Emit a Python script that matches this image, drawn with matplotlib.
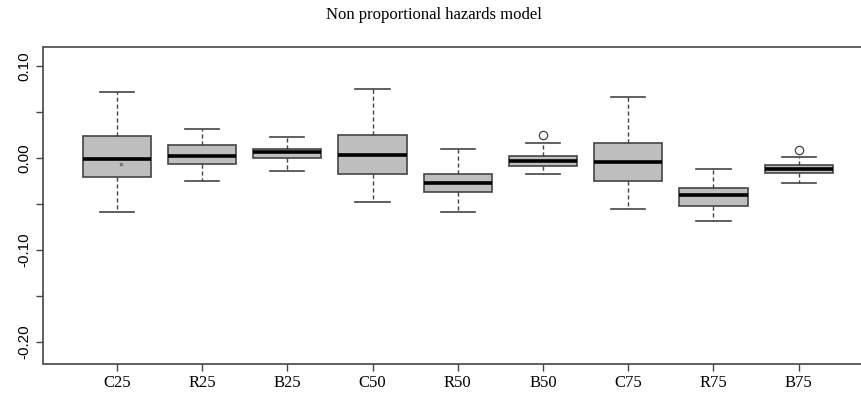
import numpy as np
import matplotlib
matplotlib.use("Agg")
import matplotlib.pyplot as plt

# groups and the five-number summaries of each box
groups = ["C25", "R25", "B25", "C50", "R50", "B50", "C75", "R75", "B75"]
whisk_lo = [-0.0590, -0.0245, -0.0139, -0.0480, -0.0583, -0.0175, -0.0557, -0.0688, -0.0273]
q1 = [-0.0204, -0.0066, 0.0000, -0.0175, -0.0365, -0.0087, -0.0251, -0.0517, -0.0164]
med = [-0.0004, 0.0025, 0.0069, 0.0039, -0.0266, -0.0033, -0.0040, -0.0404, -0.0120]
q3 = [0.0243, 0.0145, 0.0105, 0.0251, -0.0175, 0.0022, 0.0170, -0.0328, -0.0076]
whisk_hi = [0.0720, 0.0323, 0.0236, 0.0749, 0.0098, 0.0164, 0.0669, -0.0120, 0.0014]
outliers = [[], [], [], [], [], [0.0254], [], [], [0.0087]]
c25_dot = -0.0066

yticks = [0.10, 0.05, 0.00, -0.05, -0.10, -0.15, -0.20]
ylabels = ["0.10", "", "0.00", "", "-0.10", "", "-0.20"]

edge = "#444444"

stats = []
for i, g in enumerate(groups):
    stats.append(dict(label=g, whislo=whisk_lo[i], q1=q1[i], med=med[i],
                      q3=q3[i], whishi=whisk_hi[i], fliers=outliers[i]))

fig = plt.figure(figsize=(8.62, 3.96), dpi=100)
# right edge of the plotting region runs off the image
ax = fig.add_axes([43.5 / 862, 1 - 364 / 396, (872 - 43.5) / 862, (364 - 47) / 396])

pos = np.arange(1, len(groups) + 1)
ax.bxp(stats, positions=pos, widths=0.8, capwidths=0.4, patch_artist=True,
       showfliers=True,
       boxprops=dict(facecolor="#bebebe", edgecolor=edge, linewidth=1.2),
       medianprops=dict(color="black", linewidth=2.6, solid_capstyle="butt"),
       whiskerprops=dict(color=edge, linewidth=1.0, linestyle=(0, (3, 2))),
       capprops=dict(color=edge, linewidth=1.2),
       flierprops=dict(marker="o", markerfacecolor="none", markeredgecolor=edge,
                       markersize=6, markeredgewidth=0.9))

# small mean marker inside the first box
ax.plot([1.05], [c25_dot], marker="s", markersize=1.5, color="#777777", linestyle="none")

ax.set_xlim(0.14, 9.86)
ax.set_ylim(-0.2243, 0.1212)

ax.set_xticks(pos)
ax.set_xticklabels(groups, family="Liberation Serif", fontsize=12)
ax.set_yticks(yticks)
ax.set_yticklabels(ylabels, family="Liberation Sans", fontsize=11, rotation=90, va="center")

ax.tick_params(axis="both", length=5, width=1.0, color=edge)
ax.tick_params(axis="x", pad=3)
ax.tick_params(axis="y", pad=4)
for s in ax.spines.values():
    s.set_color(edge)
    s.set_linewidth(1.2)

fig.text(0.503, 1 - 15 / 396, "Non proportional hazards model", ha="center", va="center",
         family="Liberation Serif", fontsize=12)

fig.savefig("out.png", dpi=100)
